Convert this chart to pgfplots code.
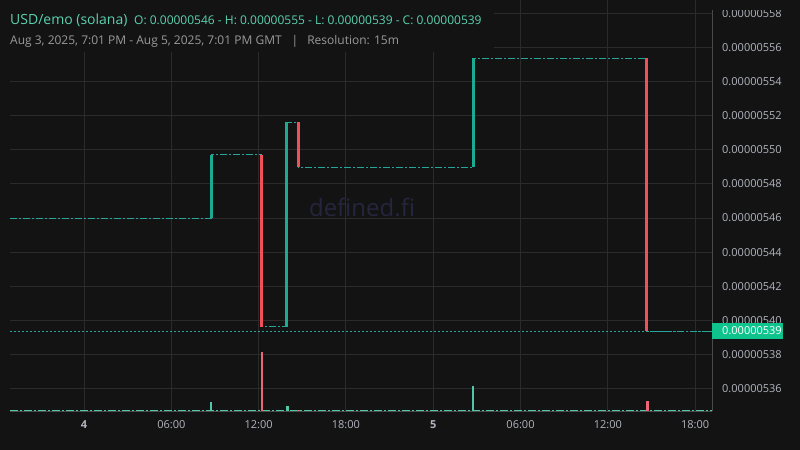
\documentclass[border=0pt]{standalone}
\usepackage{pgfplots}
\pgfplotsset{compat=1.18}
\usepackage{fontspec}
\setmainfont{Open Sans}
\definecolor{bgc}{HTML}{131313}
\definecolor{gridc}{HTML}{2B2B2B}
\definecolor{axisc}{HTML}{4A4A4A}
\definecolor{labc}{HTML}{B2B5BE}
\definecolor{upc}{HTML}{1DAA93}
\definecolor{downc}{HTML}{F0505A}
\definecolor{volup}{HTML}{52C7A8}
\definecolor{voldown}{HTML}{EE6478}
\definecolor{flatc}{HTML}{26A69A}
\definecolor{boxc}{HTML}{0EC48C}
\definecolor{headc}{HTML}{5AD2AE}
\definecolor{subc}{HTML}{9A9A9A}
\definecolor{wmc}{HTML}{25253D}

\begin{document}
\begin{tikzpicture}
\fill[bgc] (0,0) rectangle (800bp,450bp);
\useasboundingbox (0,0) rectangle (800bp,450bp);
\node[text=wmc, font=\fontsize{24bp}{28bp}\selectfont] at (362bp,243bp) {defined.fi};

\begin{axis}[
  at={(10bp,39bp)}, anchor=south west,
  scale only axis, width=702bp, height=411bp,
  xmin=-5.086, xmax=43.16, ymin=534.68, ymax=558.79,
  axis x line*=bottom, axis y line*=right,
  axis line style={color=axisc, line width=1bp},
  xtick={0,6,12,18,24,30,36,42},
  xticklabels={\textbf{4},06:00,12:00,18:00,\textbf{5},06:00,12:00,18:00},
  ytick={536,538,...,558},
  yticklabels={0.00000536,0.00000538,0.00000540,0.00000542,0.00000544,0.00000546,0.00000548,0.00000550,0.00000552,0.00000554,0.00000556,0.00000558},
  major tick length=0pt,
  grid=major, major grid style={gridc, line width=0.9bp},
  tick label style={text=labc, font=\fontsize{11bp}{13bp}\selectfont},
  yticklabel style={anchor=west, inner sep=0pt, xshift=10bp},
  xticklabel style={anchor=north, inner sep=0pt, yshift=-9bp},
  unbounded coords=jump,
]
% flat 15m candles
\addplot[const plot, flatc, line width=1bp, dash pattern=on 7bp off 2bp on 2bp off 2bp] coordinates {
  (-5.086,546.0) (8.73,549.7) (12.23,539.62) (13.95,551.63) (14.71,548.97) (26.74,555.37) (38.69,539.35) (43.16,539.35)};
% last price line
\addplot[flatc, line width=0.9bp, dash pattern=on 2bp off 2bp] coordinates {(-5.086,539.35) (43.16,539.35)};
% volume baseline
\addplot[volup, line width=1.3bp, dash pattern=on 8bp off 2bp on 2bp off 2bp] coordinates {(-5.086,534.72) (43.16,534.72)};
% volume bars
\addplot[volup, line width=2.5bp] coordinates {
  (8.73,534.68) (8.73,535.21) (8.8,nan)
  (13.98,534.68) (13.98,534.97) (14.0,nan)
  (26.74,534.68) (26.74,536.15)};
\addplot[voldown, line width=2.5bp] coordinates {
  (12.23,534.68) (12.23,538.14) (12.3,nan)
  (14.74,534.68) (14.74,534.76) (14.8,nan)
  (38.72,534.68) (38.72,535.28)};
% candle bodies
\addplot[upc, line width=3bp] coordinates {
  (8.73,546.0) (8.73,549.7) (8.8,nan)
  (13.95,539.62) (13.95,551.63) (14.0,nan)
  (26.74,548.97) (26.74,555.37)};
\addplot[downc, line width=3bp] coordinates {
  (12.23,549.7) (12.23,539.62) (12.3,nan)
  (14.71,551.63) (14.71,548.97) (14.8,nan)
  (38.69,555.37) (38.69,539.35)};
\end{axis}

% top edge of the price scale is cut off
\fill[bgc] (711bp,440bp) rectangle (800bp,450bp);

% header panel
\fill[bgc] (0,398bp) rectangle (494bp,450bp);
\node[anchor=base west, inner sep=0pt, text=headc, font=\fontsize{14bp}{17bp}\selectfont] at (10bp,425bp) {USD/emo (solana)};
\node[anchor=base west, inner sep=0pt, text=headc, font=\fontsize{12bp}{15bp}\selectfont] at (134bp,425bp) {O: 0.00000546 - H: 0.00000555 - L: 0.00000539 - C: 0.00000539};
\node[anchor=base west, inner sep=0pt, text=subc, font=\fontsize{12bp}{15bp}\selectfont] at (10bp,405bp) {Aug 3, 2025, 7:01 PM - Aug 5, 2025, 7:01 PM GMT\hspace{10bp}|\hspace{9bp}Resolution: 15m};

% last price tag
\fill[boxc] (712bp,111bp) rectangle (783bp,127bp);
\node[anchor=west, inner sep=0pt, text=white, font=\fontsize{11bp}{13bp}\selectfont] at (722bp,119bp) {0.00000539};
\end{tikzpicture}
\end{document}
